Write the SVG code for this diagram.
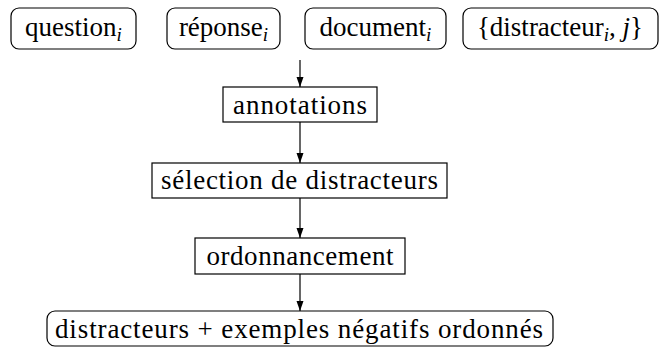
<svg xmlns="http://www.w3.org/2000/svg" width="660" height="347" viewBox="0 0 660 347">
<defs>
<style>
.box{fill:#fff;stroke:#000;stroke-width:1.2}
.t{font-size:27px;fill:#000;text-anchor:middle}
.sub{font-size:19px;font-style:italic}
.it{font-style:italic}
.c{stroke:#000;stroke-width:1.2;fill:none;marker-end:url(#ah)}
</style>
<marker id="ah" markerUnits="userSpaceOnUse" markerWidth="10" markerHeight="8" refX="10" refY="4" orient="auto">
<path d="M0,0.5 L10,4 L0,7.5 Z" fill="#000"/>
</marker>
</defs>
<rect width="660" height="347" fill="#fff"/>
<g id="connectors">
<line class="c" x1="300" y1="60" x2="300" y2="87"/>
<line class="c" x1="300" y1="122" x2="300" y2="163"/>
<line class="c" x1="300" y1="198" x2="300" y2="238"/>
<line class="c" x1="300" y1="274" x2="300" y2="311"/>
</g>
<g font-family="Liberation Serif, Times New Roman, Noto Serif, DejaVu Serif, serif">
<g id="question">
<rect class="box" x="11" y="8" width="125" height="41" rx="8"/>
<text class="t" x="73.5" y="36">question<tspan class="sub" dy="5">i</tspan></text>
</g>
<g id="reponse">
<rect class="box" x="167" y="8" width="113" height="41" rx="8"/>
<text class="t" x="223.5" y="36">réponse<tspan class="sub" dy="5">i</tspan></text>
</g>
<g id="document">
<rect class="box" x="305" y="8" width="141" height="41" rx="8"/>
<text class="t" x="375.5" y="36">document<tspan class="sub" dy="5">i</tspan></text>
</g>
<g id="distracteur">
<rect class="box" x="463" y="8" width="195" height="41" rx="8"/>
<text class="t" x="560" y="36">{distracteur<tspan class="sub" dy="5">i</tspan><tspan dy="-5">, </tspan><tspan class="it">j</tspan>}</text>
</g>
<g id="annotations">
<rect class="box" x="223" y="87" width="154" height="35"/>
<text class="t" x="300" y="113.5" textLength="134" lengthAdjust="spacing">annotations</text>
</g>
<g id="selection">
<rect class="box" x="152" y="163" width="295" height="35"/>
<text class="t" x="299.5" y="189" textLength="277" lengthAdjust="spacing">sélection de distracteurs</text>
</g>
<g id="ordonnancement">
<rect class="box" x="195" y="238" width="210" height="36"/>
<text class="t" x="300" y="265" textLength="187" lengthAdjust="spacing">ordonnancement</text>
</g>
<g id="resultat">
<rect class="box" x="47" y="311" width="506" height="35" rx="8"/>
<text class="t" x="299" y="338" textLength="488" lengthAdjust="spacing">distracteurs + exemples négatifs ordonnés</text>
</g>
</g>
</svg>
